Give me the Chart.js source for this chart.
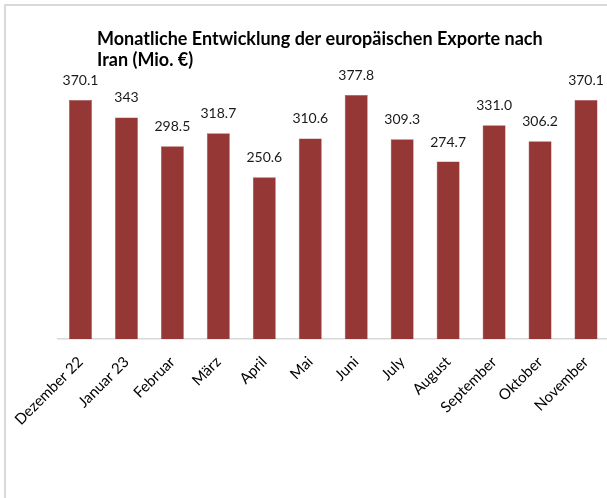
<!DOCTYPE html>
<html>
<head>
<meta charset="utf-8">
<script src="https://cdn.jsdelivr.net/npm/chart.js@4"></script>
<style>
  html, body { margin: 0; padding: 0; overflow: hidden; background: #fff; }
  #frame { position: absolute; left: 4px; top: 4px; width: 700px; height: 600px; border: 2px solid #d9d9d9; box-sizing: border-box; }
  #wrap { position: absolute; left: 0; top: 0; width: 615px; height: 498px; }
</style>
</head>
<body>
<div id="frame"></div>
<div id="wrap"><canvas id="chart"></canvas></div>
<script>
const months = ['Dezember 22', 'Januar 23', 'Februar', 'März', 'April', 'Mai', 'Juni', 'July', 'August', 'September', 'Oktober', 'November'];
const exports = [370.1, 343, 298.5, 318.7, 250.6, 310.6, 377.8, 309.3, 274.7, 331.0, 306.2, 370.1];
const exportLabels = ['370.1', '343', '298.5', '318.7', '250.6', '310.6', '377.8', '309.3', '274.7', '331.0', '306.2', '370.1'];
const titleLines = ['Monatliche Entwicklung der europäischen Exporte nach', 'Iran (Mio. €)'];

const fontName = 'Lato, "Open Sans", sans-serif';

// draws the value above each bar
const valueLabels = {
  id: 'valueLabels',
  afterDatasetsDraw(chart) {
    const ctx = chart.ctx;
    const meta = chart.getDatasetMeta(0);
    ctx.save();
    ctx.font = `14px ${fontName}`;
    ctx.fillStyle = '#1a1a1a';
    ctx.textAlign = 'center';
    ctx.textBaseline = 'alphabetic';
    meta.data.forEach((bar, i) => {
      ctx.fillText(exportLabels[i], bar.x, bar.y - 15);
    });
    ctx.restore();
  }
};

// title left aligned like the original
const leftTitle = {
  id: 'leftTitle',
  afterDraw(chart) {
    const ctx = chart.ctx;
    ctx.save();
    ctx.font = `bold 18px ${fontName}`;
    ctx.fillStyle = '#000';
    ctx.textAlign = 'left';
    titleLines.forEach((line, i) => {
      ctx.fillText(line, 97, 45 + i * 21);
    });
    ctx.restore();
  }
};

const ctx = document.getElementById('chart').getContext('2d');
new Chart(ctx, {
  type: 'bar',
  data: {
    labels: months,
    datasets: [{
      data: exports,
      backgroundColor: '#953735',
      borderColor: '#a54a48',
      borderWidth: 0.5,
      categoryPercentage: 1,
      barPercentage: 0.5
    }]
  },
  options: {
    responsive: true,
    maintainAspectRatio: false,
    animation: false,
    layout: { padding: { left: 57.5, right: 6, top: 48.4, bottom: 0 } },
    plugins: {
      legend: { display: false },
      title: { display: false },
      tooltip: { enabled: false }
    },
    scales: {
      x: {
        grid: { display: false },
        border: { display: true, color: '#d9d9d9', width: 1.5 },
        ticks: {
          minRotation: 45,
          maxRotation: 45,
          autoSkip: false,
          padding: 6,
          color: '#000',
          font: { family: fontName, size: 15 }
        },
        afterFit: (axis) => { axis.height = 159; }
      },
      y: {
        display: false,
        min: 0,
        max: 450
      }
    }
  },
  plugins: [valueLabels, leftTitle]
});
</script>
</body>
</html>
